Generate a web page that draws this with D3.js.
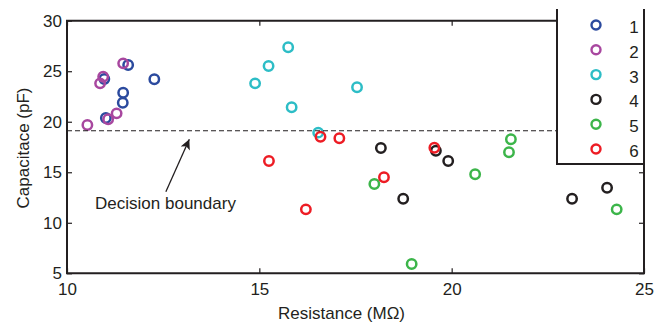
<!DOCTYPE html>
<html>
<head>
<meta charset="utf-8">
<script src="https://cdn.jsdelivr.net/npm/d3@7"></script>
<style>
  html, body { margin: 0; padding: 0; background: #fff; }
  svg { display: block; font-family: "Liberation Sans", Arial, Helvetica, sans-serif; }
</style>
</head>
<body>
<svg id="chart" width="667" height="326"></svg>
<script>
// ---- data ----
const seriesNames = ["1", "2", "3", "4", "5", "6"];
const seriesColors = ["#2b4a9e", "#a8479f", "#2dbdc6", "#231f20", "#3cb54a", "#ed1c24"];
const s1x = [11.59, 10.97, 11.46, 11.45, 11.01, 12.27];
const s1y = [25.62, 24.23, 22.87, 21.88, 20.37, 24.20];
const s2x = [11.46, 10.94, 10.86, 11.07, 11.29, 10.53];
const s2y = [25.78, 24.46, 23.80, 20.24, 20.83, 19.68];
const s3x = [15.75, 15.24, 14.89, 15.84, 17.54, 16.53];
const s3y = [27.37, 25.52, 23.80, 21.43, 23.41, 18.92];
const s4x = [18.16, 18.74, 19.59, 19.91, 23.13, 24.04];
const s4y = [17.40, 12.38, 17.13, 16.11, 12.38, 13.47];
const s5x = [17.99, 18.96, 20.61, 21.54, 21.49, 24.29];
const s5y = [13.84, 5.92, 14.80, 18.26, 16.98, 11.33];
const s6x = [16.59, 17.08, 15.25, 16.21, 18.24, 19.55];
const s6y = [18.52, 18.36, 16.12, 11.33, 14.50, 17.43];
const xTicks = [10, 15, 20, 25];
const yTicks = [5, 10, 15, 20, 25, 30];
const boundaryValue = 19.11;
const annotationText = "Decision boundary";
const arrowTail = [12.57, 13.08];
const arrowTip = [13.18, 18.26];
const annotationPos = [10.73, 11.36];
const xLabel = "Resistance (M\u03A9)";
const yLabel = "Capacitace (pF)";

const seriesX = [s1x, s2x, s3x, s4x, s5x, s6x];
const seriesY = [s1y, s2y, s3y, s4y, s5y, s6y];

// ---- layout ----
const L = 67, R = 644, T = 20.7, B = 273.3;
const ink = "#231f20";
const fs = 17;

const svg = d3.select("#chart");
const x = d3.scaleLinear().domain([10, 25]).range([L, R]);
const y = d3.scaleLinear().domain([5, 30]).range([B, T]);

// points
seriesNames.forEach((name, i) => {
  svg.append("g").selectAll("circle")
    .data(seriesX[i].map((v, j) => [v, seriesY[i][j]]))
    .join("circle")
    .attr("cx", d => x(d[0]))
    .attr("cy", d => y(d[1]))
    .attr("r", 4.7)
    .attr("fill", "none")
    .attr("stroke", seriesColors[i])
    .attr("stroke-width", 2.5);
});

// decision boundary
const legL = 557;
svg.append("line")
  .attr("x1", x(10)).attr("x2", legL)
  .attr("y1", y(boundaryValue)).attr("y2", y(boundaryValue))
  .attr("stroke", ink).attr("stroke-width", 1.2)
  .attr("stroke-dasharray", "5,3");

// arrow
const defs = svg.append("defs");
defs.append("marker").attr("id", "ah")
  .attr("viewBox", "0 0 10 10").attr("refX", 10).attr("refY", 5)
  .attr("markerWidth", 15).attr("markerHeight", 10).attr("markerUnits", "userSpaceOnUse")
  .attr("orient", "auto")
  .append("path").attr("d", "M0,0 L10,5 L0,10 L2.5,5 Z").attr("fill", ink);
svg.append("line")
  .attr("x1", x(arrowTail[0])).attr("y1", y(arrowTail[1]))
  .attr("x2", x(arrowTip[0])).attr("y2", y(arrowTip[1]))
  .attr("stroke", ink).attr("stroke-width", 1.3)
  .attr("marker-end", "url(#ah)");
svg.append("text")
  .attr("x", x(annotationPos[0])).attr("y", y(annotationPos[1]))
  .attr("font-size", fs).attr("fill", ink)
  .text(annotationText);

// axes
function styleAxis(g) {
  g.select(".domain").remove();
  g.selectAll(".tick line").attr("stroke", ink).attr("stroke-width", 1.2);
  g.selectAll(".tick text").attr("fill", ink).attr("font-size", fs).attr("font-family", null);
}
svg.append("g").attr("transform", `translate(0,${B})`)
  .call(d3.axisBottom(x).tickValues(xTicks).tickSize(-5).tickPadding(10).tickFormat(d3.format("d")))
  .call(styleAxis);
svg.append("g").attr("transform", `translate(${L},0)`)
  .call(d3.axisLeft(y).tickValues(yTicks).tickSize(-5).tickPadding(5).tickFormat(d3.format("d")))
  .call(styleAxis);
svg.append("g").attr("transform", `translate(0,${T})`)
  .call(d3.axisTop(x).tickValues(xTicks.filter(v => x(v) < legL)).tickSize(-5).tickFormat(""))
  .call(styleAxis);
svg.append("g").attr("transform", `translate(${R},0)`)
  .call(d3.axisRight(y).tickValues(yTicks).tickSize(-5).tickFormat(""))
  .call(styleAxis);

// frame
svg.append("path")
  .attr("d", `M${legL},${T} H${L} V${B} H${R} V${T}`)
  .attr("fill", "none").attr("stroke", ink).attr("stroke-width", 2);

// legend
const legT = 9, legB = 164;
svg.append("rect").attr("x", legL).attr("y", legT).attr("width", R - legL).attr("height", legB - legT)
  .attr("fill", "#fff");
svg.append("path")
  .attr("d", `M${legL},${legT} V${legB} H${R} V${legT}`)
  .attr("fill", "none").attr("stroke", ink).attr("stroke-width", 2);
const lg = svg.append("g").selectAll("g").data(seriesNames).join("g")
  .attr("transform", (d, i) => `translate(0,${25 + i * 24.8})`);
lg.append("circle").attr("cx", 596).attr("cy", 0).attr("r", 4.5)
  .attr("fill", "none").attr("stroke", (d, i) => seriesColors[i]).attr("stroke-width", 2.4);
lg.append("text").attr("x", 634).attr("y", 8).attr("text-anchor", "middle")
  .attr("font-size", fs).attr("fill", ink).text(d => d);

// axis labels
svg.append("text").attr("x", (L + R) / 2 - 14).attr("y", 319)
  .attr("text-anchor", "middle").attr("font-size", fs).attr("fill", ink).text(xLabel);
svg.append("text").attr("transform", `translate(29,148) rotate(-90)`)
  .attr("text-anchor", "middle").attr("font-size", fs).attr("fill", ink).text(yLabel);
</script>
</body>
</html>
